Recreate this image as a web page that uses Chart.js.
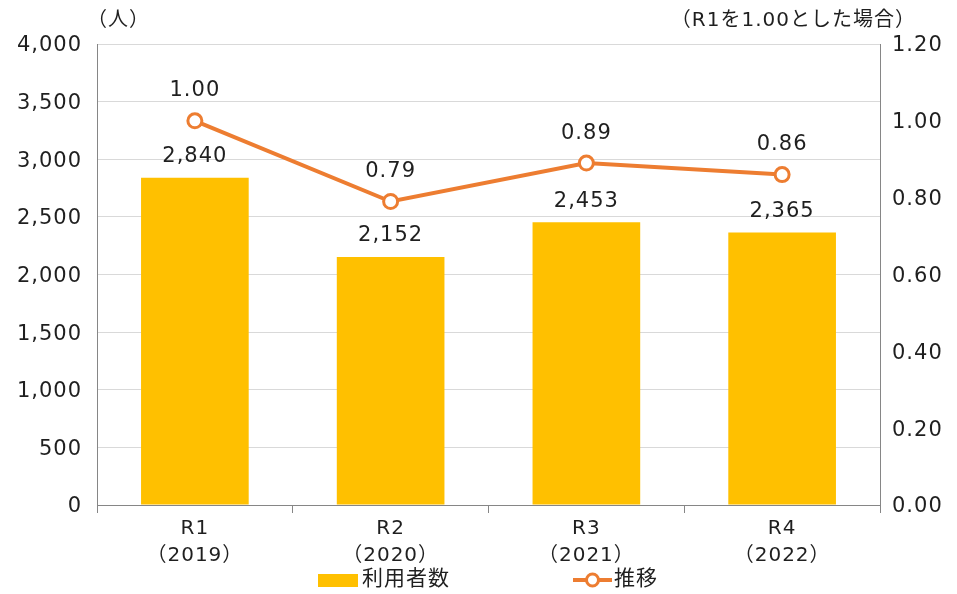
<!DOCTYPE html>
<html>
<head>
<meta charset="utf-8">
<script src="https://cdn.jsdelivr.net/npm/chart.js@4.4.1/dist/chart.umd.min.js"></script>
<style>
  html, body { margin: 0; padding: 0; background: #fff; }
  #wrap { width: 957px; height: 594px; }
</style>
</head>
<body>
<div id="wrap"><canvas id="chart" width="957" height="594"></canvas></div>
<script>
// データ
var categories = [['R1', '（2019）'], ['R2', '（2020）'], ['R3', '（2021）'], ['R4', '（2022）']];
var users = [2840, 2152, 2453, 2365];
var trend = [1.00, 0.79, 0.89, 0.86];

var FONT = '"DejaVu Sans", "Noto Sans CJK JP", sans-serif';
var BAR_COLOR = '#FFC000';
var LINE_COLOR = '#ED7D31';
var TEXT_COLOR = '#1f1f1f';

// データラベル・軸タイトル・凡例を描くプラグイン
var extrasPlugin = {
  id: 'extras',
  beforeDraw: function(chart) {
    chart.ctx.letterSpacing = '1px';
  },
  afterDatasetsDraw: function(chart) {
    var ctx = chart.ctx;
    ctx.save();
    ctx.letterSpacing = '1px';
    ctx.fillStyle = TEXT_COLOR;
    ctx.font = '21px ' + FONT;
    ctx.textAlign = 'center';
    ctx.textBaseline = 'middle';
    chart.getDatasetMeta(0).data.forEach(function(bar, i) {
      ctx.fillText(users[i].toLocaleString('en-US'), bar.x, bar.y - 21);
    });
    chart.getDatasetMeta(1).data.forEach(function(pt, i) {
      ctx.fillText(trend[i].toFixed(2), pt.x, pt.y - 30);
    });

    // 軸タイトル
    var area = chart.chartArea;
    ctx.font = '20px ' + FONT;
    ctx.textAlign = 'left';
    ctx.fillText('（人）', area.left - 10, 21);
    ctx.textAlign = 'right';
    ctx.fillText('（R1を1.00とした場合）', area.right + 36, 21);

    // 凡例
    var ly = 580;
    ctx.font = '21px ' + FONT;
    ctx.fillStyle = BAR_COLOR;
    ctx.fillRect(318, ly - 6, 40, 13);
    ctx.fillStyle = TEXT_COLOR;
    ctx.textAlign = 'left';
    ctx.fillText('利用者数', 362, ly);
    ctx.strokeStyle = LINE_COLOR;
    ctx.lineWidth = 4;
    ctx.beginPath();
    ctx.moveTo(573, ly);
    ctx.lineTo(612, ly);
    ctx.stroke();
    ctx.beginPath();
    ctx.arc(592.5, ly, 6, 0, Math.PI * 2);
    ctx.fillStyle = '#fff';
    ctx.fill();
    ctx.lineWidth = 3;
    ctx.stroke();
    ctx.fillStyle = TEXT_COLOR;
    ctx.fillText('推移', 614, ly);
    ctx.restore();
  }
};

new Chart(document.getElementById('chart'), {
  type: 'bar',
  data: {
    labels: categories,
    datasets: [{
      type: 'bar',
      label: '利用者数',
      data: users,
      backgroundColor: BAR_COLOR,
      yAxisID: 'y',
      categoryPercentage: 0.55,
      barPercentage: 1.0,
      order: 2
    }, {
      type: 'line',
      label: '推移',
      data: trend,
      borderColor: LINE_COLOR,
      borderWidth: 4,
      pointBackgroundColor: '#fff',
      pointBorderColor: LINE_COLOR,
      pointBorderWidth: 3,
      pointRadius: 7,
      tension: 0,
      yAxisID: 'y1',
      order: 1
    }]
  },
  options: {
    responsive: false,
    animation: false,
    layout: { padding: { top: 44, bottom: 0, left: 0, right: 0 } },
    plugins: {
      legend: { display: false },
      tooltip: { enabled: false }
    },
    scales: {
      x: {
        grid: { display: true, drawOnChartArea: false, drawTicks: true, tickLength: 8, offset: true, color: '#868686' },
        border: { color: '#868686', width: 1 },
        ticks: { color: TEXT_COLOR, font: { family: FONT, size: 20, lineHeight: 1.35 }, padding: 2 },
        afterFit: function(s) { s.height = 89; }
      },
      y: {
        position: 'left',
        min: 0, max: 4000,
        ticks: {
          stepSize: 500, color: TEXT_COLOR, padding: 15, labelOffset: 2,
          font: { family: FONT, size: 21 },
          callback: function(v) { return v.toLocaleString('en-US'); }
        },
        grid: { color: '#d9d9d9', drawTicks: false },
        border: { color: '#868686', width: 1 },
        afterFit: function(s) { s.width = 97; }
      },
      y1: {
        position: 'right',
        min: 0, max: 1.2,
        ticks: {
          stepSize: 0.2, color: TEXT_COLOR, padding: 12, labelOffset: 2,
          font: { family: FONT, size: 21 },
          callback: function(v) { return v.toFixed(2); }
        },
        grid: { drawOnChartArea: false, drawTicks: false },
        border: { color: '#868686', width: 1 },
        afterFit: function(s) { s.width = 77; }
      }
    }
  },
  plugins: [extrasPlugin]
});
</script>
</body>
</html>
